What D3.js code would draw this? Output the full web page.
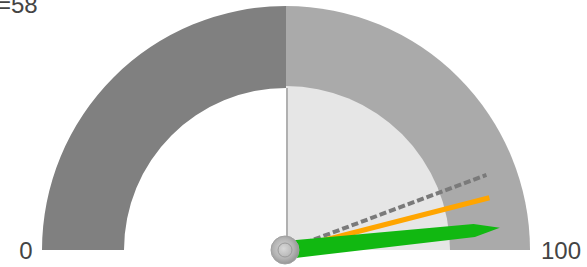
<!DOCTYPE html>
<html>
<head>
<meta charset="utf-8">
<script src="https://cdn.jsdelivr.net/npm/d3@7"></script>
<style>
  body { margin: 0; background: #fff; }
  svg { display: block; }
</style>
</head>
<body>
<svg></svg>
<script>
// gauge data
let bandFrom = [0, 50]
let bandTo = [50, 100]
let bandColors = ["#808080", "#aaaaaa"]
let tickLabels = [0, 100]
let needleNames = ["target", "previous", "current"]
let needleValues = [88.6, 92, 96.7]
let titleText = "=58"

let width = 587
let height = 267
let cx = 286
let cy = 250
let outerR = 244
let innerR = 162

let svg = d3.select("svg").attr("width", width).attr("height", height)

let angle = d3.scaleLinear().domain([0, 100]).range([-Math.PI / 2, Math.PI / 2])
let deg = d3.scaleLinear().domain([0, 100]).range([-90, 90])

let g = svg.append("g").attr("transform", "translate(" + cx + "," + cy + ")")

// bands
g.selectAll("path.band")
    .data(bandFrom)
    .enter()
    .append("path")
    .attr("class", "band")
    .attr("d", (d, i) => d3.arc()
        .innerRadius(i == 0 ? innerR : 0)
        .outerRadius(outerR)
        .startAngle(angle(d))
        .endAngle(angle(bandTo[i]))())
    .attr("fill", (d, i) => bandColors[i])

// light inner area of upper half
g.append("path")
    .attr("d", d3.arc().innerRadius(0).outerRadius(164)
        .startAngle(angle(50)).endAngle(angle(100))())
    .attr("fill", "#e6e6e6")

g.append("line")
    .attr("x1", 1).attr("x2", 1)
    .attr("y1", 0).attr("y2", -innerR)
    .attr("stroke", "#b0b0b0").attr("stroke-width", 2)

// tick labels
svg.selectAll("text.tick")
    .data(tickLabels)
    .enter()
    .append("text")
    .attr("class", "tick")
    .attr("x", (d, i) => i == 0 ? 26 : 561)
    .attr("y", 259)
    .attr("text-anchor", "middle")
    .attr("font-family", "Liberation Sans, Arial, sans-serif")
    .attr("font-size", 24)
    .attr("fill", "#444")
    .text(d => d)

// title (clipped at the left edge, like the reference)
svg.append("text")
    .attr("x", -3)
    .attr("y", 13)
    .attr("font-family", "Liberation Sans, Arial, sans-serif")
    .attr("font-size", 24)
    .attr("fill", "#444")
    .text(titleText)

// needles
let needleLen = [214, 210, 215]

// dashed target needle
g.append("line")
    .attr("transform", "rotate(" + deg(needleValues[0]) + ")")
    .attr("x1", 0).attr("y1", 0)
    .attr("x2", 0).attr("y2", -needleLen[0])
    .attr("stroke", "#7a7a7a").attr("stroke-width", 4)
    .attr("stroke-dasharray", "7,3")

// orange previous needle
g.append("line")
    .attr("transform", "rotate(" + deg(needleValues[1]) + ")")
    .attr("x1", 0).attr("y1", 0)
    .attr("x2", 0).attr("y2", -needleLen[1])
    .attr("stroke", "#ffa500").attr("stroke-width", 5)

// green current needle
let L = needleLen[2]
g.append("path")
    .attr("transform", "rotate(" + deg(needleValues[2]) + ")")
    .attr("d", "M-9,0 L-6.5," + (-0.88 * L) + " L0," + (-L) + " L6.5," + (-0.88 * L) + " L9,0 Z")
    .attr("fill", "#11b811")

// pivot
let grad = svg.append("defs").append("radialGradient")
    .attr("id", "piv").attr("cx", "45%").attr("cy", "45%").attr("r", "60%")
grad.append("stop").attr("offset", "0%").attr("stop-color", "#d8d8d8")
grad.append("stop").attr("offset", "60%").attr("stop-color", "#b4b4b4")
grad.append("stop").attr("offset", "100%").attr("stop-color", "#8e8e8e")

g.append("circle")
    .attr("cx", -1).attr("cy", 0).attr("r", 14)
    .attr("fill", "url(#piv)")
    .attr("stroke", "#a0a0a0").attr("stroke-width", 1)
g.append("circle")
    .attr("cx", -1).attr("cy", 0).attr("r", 7)
    .attr("fill", "none")
    .attr("stroke", "#9a9a9a").attr("stroke-width", 1)
</script>
</body>
</html>
